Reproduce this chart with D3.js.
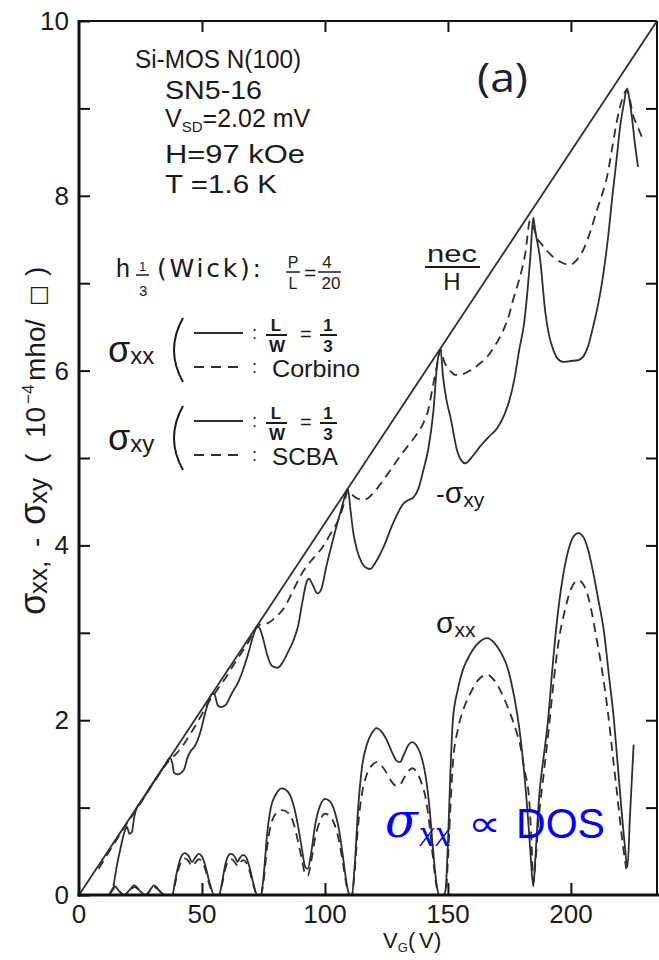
<!DOCTYPE html>
<html><head><meta charset="utf-8">
<script src="https://cdn.jsdelivr.net/npm/d3@7"></script>
<style>
body{margin:0;background:#fff;}
svg{display:block;}
text{font-family:"Liberation Sans","DejaVu Sans",sans-serif;fill:#1a1a1a;}
</style></head>
<body><div id="chart"></div>
<script>
// ---------------- data ----------------
const xTicks = [0, 50, 100, 150, 200];
const yTickLabels = [0, 2, 4, 6, 8, 10];
const yMinorTicks = [0,1,2,3,4,5,6,7,8,9,10];
const xDomain = [0, 235];
const yDomain = [0, 10];

// nec/H straight line
const necH = [[0, 0], [235, 10]];

// sigma_xx solid (L/W = 1/3)
const sxxSolid = [[0,0],[12,0],[13,0.04],[14.5,0.1],[16.5,0.04],[18.5,0],[20,0.04],[22.5,0.11],[25,0.04],[27,0],[28.5,0.04],[30.5,0.11],[33,0.04],[35,0],[38,0],
[39,0.15],[40.5,0.35],[42,0.46],[43,0.48],[44.5,0.45],[46,0.38],[47.3,0.43],[48.7,0.47],[50,0.44],[51.5,0.32],[53,0.15],[55,0],
[57,0],[58,0.12],[59.5,0.35],[61,0.46],[62,0.47],[63.5,0.43],[64.5,0.38],[65.5,0.43],[66.8,0.46],[68,0.43],[69.5,0.3],[71,0.12],[72.5,0],[74,0],
[75,0.2],[76.5,0.7],[78,1.0],[80,1.15],[82.5,1.22],[85,1.18],[87,1.05],[89,0.8],[90.5,0.55],[92,0.32],[93,0.3],[94.5,0.5],[96,0.8],[98,1.02],[100,1.1],[102,1.07],[104,0.95],[106,0.7],[107.5,0.4],[109,0.1],[110,0],
[111,0],[112,0.3],[113.5,1.0],[115,1.45],[117,1.72],[119,1.85],[121,1.91],[123,1.87],[125,1.78],[127,1.65],[129,1.54],[130.5,1.52],[132,1.6],[134,1.72],[135.5,1.75],[137,1.72],[139,1.6],[141,1.35],[142.5,1.0],[144,0.5],[145.5,0.1],[146.5,0],[148,0],
[149,0.05],[150,0.6],[151,1.4],[152,2.0],[154,2.35],[156,2.57],[158,2.7],[160,2.8],[163,2.9],[166,2.94],[169,2.88],[172,2.75],[174,2.62],[176,2.4],[178,2.1],[179.5,1.8],[181,1.4],[182.5,0.9],[183.5,0.5],[184.7,0.1],
[185.5,0.4],[187,1.1],[189,1.6],[190.7,2.0],[192.5,2.6],[194.4,3.15],[196.5,3.6],[199,3.95],[201,4.1],[203,4.14],[205,4.1],[207,3.95],[209,3.7],[211,3.4],[213.5,3.0],[215.5,2.5],[217.5,2.0],[219,1.5],[220.5,1.0],[221.8,0.6],[223,0.32],[224,0.9],[225.5,1.72]];

// sigma_xx dashed (Corbino)
const sxxCorbino = [[0,0],[12,0],[14.5,0.08],[18.5,0],[22.5,0.09],[27,0],[30.5,0.09],[35,0],[38,0],
[39,0.12],[40.5,0.3],[42,0.4],[43,0.42],[44.5,0.39],[46,0.33],[47.3,0.37],[48.7,0.41],[50,0.38],[51.5,0.28],[53,0.12],[55,0],
[57,0],[58,0.1],[59.5,0.3],[61,0.4],[62,0.41],[63.5,0.37],[64.5,0.33],[65.5,0.37],[66.8,0.4],[68,0.37],[69.5,0.26],[71,0.1],[72.5,0],[74,0],
[75,0.15],[76.5,0.55],[78,0.8],[80,0.93],[82.5,0.97],[85,0.94],[87,0.84],[89,0.62],[90.5,0.42],[92,0.24],[93,0.22],[94.5,0.4],[96,0.65],[98,0.85],[100,0.93],[102,0.9],[104,0.8],[106,0.58],[107.5,0.33],[109,0.08],[110,0],
[111,0],[112,0.25],[113.5,0.8],[115,1.15],[117,1.38],[119,1.48],[121,1.52],[123,1.48],[125,1.4],[127,1.3],[129,1.25],[130.5,1.26],[132,1.33],[134,1.42],[135.5,1.45],[137,1.42],[139,1.3],[141,1.1],[142.5,0.8],[144,0.4],[145.5,0.08],[146.5,0],[148,0],
[149,0],[150,0.4],[151,1.0],[152,1.5],[154,1.89],[156,2.1],[159,2.3],[162,2.45],[166,2.52],[169,2.45],[172.5,2.27],[175,2.1],[177.5,1.9],[179.5,1.7],[181,1.45],[183,1.1],[184,0.6],[184.7,0.15],
[185.5,0.35],[187,0.9],[189,1.4],[191,1.9],[193,2.45],[195,2.9],[197.5,3.25],[200,3.5],[203,3.6],[206,3.5],[208,3.3],[210,3.0],[212.5,2.6],[215,2.1],[217,1.6],[219,1.1],[221,0.6],[222.5,0.3]];

// -sigma_xy solid (L/W = 1/3)
const sxySolid = [[14,0.1],[15.5,0.35],[17,0.55],[18.5,0.72],[19.5,0.78],[20.5,0.7],[21.5,0.72],[22.5,0.9],[23.5,1.0],
[25,1.06],[30,1.28],[35,1.49],[37,1.57],
[38,1.5],[38.6,1.4],[40,1.38],[42.6,1.43],[44.2,1.58],[45.5,1.65],[47,1.7],[49.5,1.88],[51,2.05],[52.5,2.2],[54,2.3],
[55,2.3],[56.4,2.17],[57.6,2.15],[59.5,2.17],[62,2.3],[65,2.45],[67,2.6],[69,2.78],[71,2.98],[72.6,3.08],
[73.5,3.05],[74.7,2.95],[76.5,2.75],[78.5,2.62],[80.8,2.6],[82.5,2.65],[84.8,2.77],[87,2.9],[89,3.07],[91,3.38],[92.5,3.58],[93.5,3.62],[95,3.55],[96.9,3.45],[98.5,3.5],[100.5,3.75],[102.5,3.98],[104.5,4.2],[106.5,4.4],[108,4.55],[109.3,4.65],
[110.4,4.4],[111.5,4.15],[113,3.95],[115,3.8],[117,3.74],[118.5,3.73],[120,3.78],[121.5,3.85],[123.8,3.98],[127.8,4.26],[132,4.48],[134,4.52],[136,4.55],[138,4.65],[140,4.86],[142,5.1],[144,5.51],[145.7,6.09],[147,6.24],
[148,5.93],[149.5,5.65],[151,5.47],[153.7,5.09],[155.5,4.97],[157,4.94],[160,5.02],[163,5.13],[166.5,5.24],[170,5.34],[173,5.5],[175,5.66],[177,5.9],[179,6.24],[181,6.55],[182,6.81],[183.5,7.3],[184.7,7.75],
[185.5,7.6],[187.5,7.27],[189.5,6.69],[191,6.42],[192.8,6.24],[194.5,6.14],[196.8,6.10],[200,6.11],[203,6.12],[205,6.16],[207,6.28],[209,6.5],[211,6.75],[213,7.07],[215,7.5],[217,8.03],[218.5,8.4],[220,8.79],[221.5,9.05],[222.8,9.23],[223.8,9.1],[224.8,8.9],[226,8.6],[227.3,8.33]];

// -sigma_xy dashed (SCBA)
const sxySCBA = [[8,0.3],[15,0.62],[20,0.84],[25,1.05],[30,1.27],[35,1.48],[37,1.55],[39,1.6],[42,1.7],[45,1.83],[48,1.97],[51,2.12],[53,2.22],[55,2.3],[57,2.38],[60,2.5],[63,2.64],[66,2.77],[69,2.9],[72,3.05],[74,3.1],[76.7,3.11],[80,3.18],[83.3,3.28],[86.5,3.45],[90,3.65],[93,3.78],[95.5,3.86],[99,3.98],[102,4.12],[106,4.33],[108,4.5],[109.3,4.63],
[111,4.58],[113,4.54],[115.7,4.52],[119.7,4.6],[123,4.72],[126.6,4.86],[130,5.0],[133.5,5.13],[137,5.26],[140,5.4],[142,5.55],[143.6,5.78],[145.5,6.05],[147,6.24],
[148.5,6.1],[149.7,6.04],[151.5,5.98],[153,5.95],[156,5.96],[159,6.0],[162.5,6.07],[166,6.16],[169,6.28],[172.5,6.46],[175,6.65],[176.5,6.81],[178,6.95],[180,7.15],[181.5,7.35],[183.4,7.72],
[185,7.62],[186.5,7.5],[188,7.45],[190,7.38],[192.8,7.3],[196,7.24],[199.7,7.21],[202.5,7.27],[205,7.38],[208,7.6],[210.6,7.84],[212.5,8.0],[214.7,8.22],[216.8,8.55],[218.8,8.87],[220.8,9.1],[222.8,9.21],[224,9.1],[225,8.95],[227,8.8],[228.9,8.67]];

// ---------------- drawing ----------------
const W = 659, H = 960;
const svg = d3.select("#chart").append("svg").attr("width", W).attr("height", H);
const L = 79, R = 657, T = 21, B = 895;
const x = d3.scaleLinear().domain(xDomain).range([L, R]);
const y = d3.scaleLinear().domain(yDomain).range([B, T]);

const ink = "#2e2e2e";
const dark = "#1a1a1a";
const line = d3.line().x(d => x(d[0])).y(d => y(d[1])).curve(d3.curveMonotoneX);

// nec/H line
svg.append("path").attr("d", d3.line().x(d => x(d[0])).y(d => y(d[1]))(necH))
  .attr("fill","none").attr("stroke", ink).attr("stroke-width", 1.8);

const series = [
  {data: sxxSolid, dash: null},
  {data: sxxCorbino, dash: "9,6"},
  {data: sxySolid, dash: null},
  {data: sxySCBA, dash: "9,6"}
];
series.forEach(s => {
  svg.append("path").attr("d", line(s.data)).attr("fill","none")
    .attr("stroke", ink).attr("stroke-width", 1.8)
    .attr("stroke-dasharray", s.dash).attr("stroke-linejoin","round");
});

// axes frame
const frame = svg.append("g").attr("stroke", "#111");
frame.append("line").attr("x1", L).attr("x2", L).attr("y1", T-1).attr("y2", B+1.5).attr("stroke-width", 3);
frame.append("line").attr("x1", L-1.5).attr("x2", W).attr("y1", B).attr("y2", B).attr("stroke-width", 3);
frame.append("line").attr("x1", L).attr("x2", R).attr("y1", T).attr("y2", T).attr("stroke-width", 2);
frame.append("line").attr("x1", R).attr("x2", R).attr("y1", T).attr("y2", B).attr("stroke-width", 2);

function ticks(axis, tx, ty) {
  const g = svg.append("g").attr("transform", `translate(${tx},${ty})`).call(axis);
  g.select(".domain").remove();
  g.selectAll(".tick line").attr("stroke","#111").attr("stroke-width",2);
  g.selectAll(".tick text").remove();
}
ticks(d3.axisRight(y).tickValues(yMinorTicks).tickSize(11), L, 0);
ticks(d3.axisLeft(y).tickValues(yMinorTicks.slice(1,10)).tickSize(11), R, 0);
ticks(d3.axisBottom(x).tickValues(xTicks.slice(1)).tickSize(11), 0, T);
ticks(d3.axisTop(x).tickValues(xTicks.slice(1)).tickSize(12), 0, B);

// tick labels
svg.append("g").selectAll("text").data(yTickLabels).join("text")
  .attr("x", 69).attr("y", d => y(d) + 9).attr("text-anchor","end")
  .attr("font-size", 26).text(d => d);
svg.append("g").selectAll("text").data(xTicks).join("text")
  .attr("x", d => x(d)).attr("y", 923).attr("text-anchor","middle")
  .attr("font-size", 26).text(d => d);

// x axis label
const xl = svg.append("text").attr("x", 383).attr("y", 948).attr("font-size", 22);
xl.append("tspan").text("V");
xl.append("tspan").attr("font-size", 13).attr("dy", 4).text("G");
xl.append("tspan").attr("dy", -4).attr("x", 408).text("(");
xl.append("tspan").attr("x", 419).text("V");
xl.append("tspan").attr("x", 434).text(")");

// y axis label (rotated; x' = -pageY)
const yl = svg.append("text").attr("transform","translate(45,0) rotate(-90)").attr("font-size", 28);
yl.append("tspan").attr("x", -615).attr("font-size", 36).text("σ");
yl.append("tspan").attr("x", -594).attr("font-size", 26).attr("dy", 2).text("xx,");
yl.append("tspan").attr("x", -547).attr("dy", -2).text("-");
yl.append("tspan").attr("x", -525).attr("font-size", 36).text("σ");
yl.append("tspan").attr("x", -504).attr("font-size", 26).attr("dy", 2).text("xy");
yl.append("tspan").attr("x", -463).attr("dy", -2).text("(");
yl.append("tspan").attr("x", -438).text("10");
yl.append("tspan").attr("x", -404).attr("font-size", 17).attr("dy", -11).text("−4");
yl.append("tspan").attr("x", -381).attr("dy", 11).text("mho");
yl.append("tspan").attr("x", -327).text("/");
yl.append("tspan").attr("x", -306).attr("font-family", "'DejaVu Sans',sans-serif").attr("font-size", 22).text("□");
yl.append("tspan").attr("x", -276).text(")");

// text helper
function txt(xx, yy, s, fs, opts = {}) {
  const t = svg.append("text").attr("x", xx).attr("y", yy).attr("font-size", fs).text(s);
  if (opts.len) t.attr("textLength", opts.len).attr("lengthAdjust", opts.adj || "spacingAndGlyphs");
  if (opts.anchor) t.attr("text-anchor", opts.anchor);
  if (opts.fill) t.style("fill", opts.fill);
  if (opts.weight) t.attr("font-weight", opts.weight);
  return t;
}
txt(135, 68, "Si-MOS  N(100)", 26, {len: 166});
txt(165, 99, "SN5-16", 25, {len: 97});
const vsd = svg.append("text").attr("x", 165).attr("y", 127).attr("font-size", 25);
vsd.append("tspan").text("V");
vsd.append("tspan").attr("font-size", 15).attr("dy", 5).text("SD");
vsd.append("tspan").attr("dy", -5).text("=2.02 mV");
txt(165, 163, "H=97 kOe", 25, {len: 140});
txt(165, 193, "T =1.6 K", 25, {len: 112});

// h_1/3 (Wick): P/L = 4/20
txt(116, 277, "h", 25);
txt(139, 271, "1", 13);
svg.append("line").attr("x1",136).attr("x2",149).attr("y1",275).attr("y2",275).attr("stroke",dark).attr("stroke-width",1.5);
txt(139, 296, "3", 15);
txt(157, 277, "(Wick):", 25, {len: 104, adj: "spacing"}).style("font-family","'DejaVu Sans',sans-serif");
txt(293, 268, "P", 16, {anchor:"middle"});
svg.append("line").attr("x1",286).attr("x2",300).attr("y1",272).attr("y2",272).attr("stroke",dark).attr("stroke-width",1.5);
txt(293, 289, "L", 16, {anchor:"middle"});
txt(304, 280, "=", 21);
txt(327, 268, "4", 17, {anchor:"middle"});
svg.append("line").attr("x1",318).attr("x2",341).attr("y1",272).attr("y2",272).attr("stroke",dark).attr("stroke-width",1.5);
txt(331, 289, "20", 17, {anchor:"middle"});

// sigma legends
function sigmaRow(yc, sub, lastLabel) {
  const s = svg.append("text").attr("x", 108).attr("y", yc + 12).attr("font-size", 36);
  s.append("tspan").text("σ");
  s.append("tspan").attr("font-size", 24).attr("dy", 2).text(sub);
  // big paren
  svg.append("path").attr("d", `M183,${yc-32} Q165,${yc} 183,${yc+32}`).attr("fill","none").attr("stroke",dark).attr("stroke-width",2);
  const y1 = yc - 17, y2 = yc + 17;
  svg.append("line").attr("x1",194).attr("x2",243).attr("y1",y1).attr("y2",y1).attr("stroke",ink).attr("stroke-width",2);
  svg.append("line").attr("x1",194).attr("x2",243).attr("y1",y2).attr("y2",y2).attr("stroke",ink).attr("stroke-width",2).attr("stroke-dasharray","10,7");
  txt(252, y1 + 6, ":", 18);
  txt(252, y2 + 6, ":", 18);
  txt(276, y1 - 2, "L", 17, {anchor:"middle", weight:"bold"});
  svg.append("line").attr("x1",266).attr("x2",287).attr("y1",y1+2).attr("y2",y1+2).attr("stroke",dark).attr("stroke-width",2);
  txt(277, y1 + 19, "W", 17, {anchor:"middle", weight:"bold"});
  txt(300, y1 + 8, "=", 20);
  txt(328, y1 - 2, "1", 17, {anchor:"middle", weight:"bold"});
  svg.append("line").attr("x1",320).attr("x2",337).attr("y1",y1+2).attr("y2",y1+2).attr("stroke",dark).attr("stroke-width",2);
  txt(328, y1 + 19, "3", 17, {anchor:"middle", weight:"bold"});
  txt(272, y2 + 10, lastLabel, 24, {len: lastLabel === "Corbino" ? 88 : 66});
}
sigmaRow(350, "xx", "Corbino");
sigmaRow(438, "xy", "SCBA");

// nec/H
txt(452, 262, "nec", 24, {anchor:"middle", len: 50});
svg.append("line").attr("x1",425).attr("x2",480).attr("y1",267).attr("y2",267).attr("stroke",dark).attr("stroke-width",2);
txt(452, 290, "H", 24, {anchor:"middle"});

// (a)
txt(477, 92, "(a)", 40, {fill: "#1c2033", len: 51}).style("font-family", "'Open Sans', sans-serif");

// curve labels
const lxy = svg.append("text").attr("x", 436).attr("y", 503).attr("font-size", 26);
lxy.append("tspan").text("-");
lxy.append("tspan").attr("font-size", 30).text("σ");
lxy.append("tspan").attr("font-size", 21).attr("dy", 4).text("xy");
const lxx = svg.append("text").attr("x", 436).attr("y", 633).attr("font-size", 26);
lxx.append("tspan").attr("font-size", 30).text("σ");
lxx.append("tspan").attr("font-size", 21).attr("dy", 4).text("xx");

// blue annotation
const blue = "#0000ff";
txt(385, 837, "σ", 48, {fill: blue}).style("font-family","'DejaVu Serif',serif").attr("font-style","italic");
txt(419, 846, "xx", 34, {fill: blue, len: 32}).style("font-family","'DejaVu Serif',serif").attr("font-style","italic");
txt(468, 836, "∝", 36, {fill: blue, len: 33}).style("font-family","'DejaVu Sans',sans-serif");
txt(516, 838, "DOS", 43, {fill: blue, len: 89});
</script></body></html>
